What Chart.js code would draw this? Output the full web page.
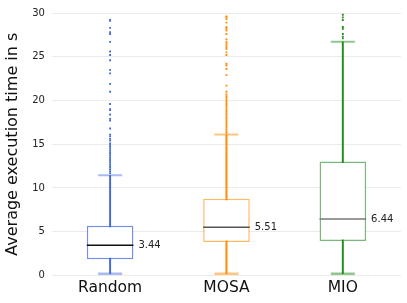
<!doctype html>
<html lang="en">
    <head>
        <meta charset="UTF-8" />
        <title>Execution time</title>
        <script src="https://cdn.jsdelivr.net/npm/chart.js"></script>
        <style>
            html, body { margin: 0; padding: 0; background: #fff; }
            #wrap { width: 407px; height: 303px; }
        </style>
    </head>
    <body>
        <div id="wrap"><canvas id="chart1"></canvas></div>
        <script>
            // Categories and box statistics
            const categories = ["Random", "MOSA", "MIO"];
            const q1 = [1.86, 3.83, 3.94];
            const q3 = [5.68, 8.75, 13.03];
            const medians = [3.44, 5.51, 6.44];
            const whiskerLow = [0.2, 0.2, 0.2];
            const whiskerHigh = [11.44, 16.1, 26.7];
            const yTicks = [0, 5, 10, 15, 20, 25, 30];

            // Outliers
            const randomOutliers = [11.7, 11.9, 12.1, 12.3, 12.5, 12.7, 12.9, 13.1, 13.3, 13.5, 13.7,
                13.9, 14.1, 14.3, 14.5, 14.7, 14.9, 15.1, 15.4, 15.6, 15.9, 16.1, 16.8, 17.7, 17.9, 18.4,
                18.9, 19.0, 19.6, 21.0, 21.9, 23.1, 23.5, 24.6, 25.2, 25.6, 26.7, 27.6, 27.8, 28.3, 29.1, 29.2];
            const mosaOutliers = [16.3, 16.5, 16.7, 16.9, 17.1, 17.3, 17.5, 17.7, 17.9, 18.1, 18.3, 18.5, 18.7,
                18.9, 19.1, 19.3, 19.5, 19.7, 19.9, 20.1, 20.3, 20.5, 20.7, 21.0, 21.7, 22.9, 23.6, 24.0,
                24.2, 25.2, 25.5, 25.9, 26.1, 26.3, 26.5, 26.7, 27.0, 27.6, 28.0, 28.2, 28.4, 28.9, 29.3,
                29.5, 29.6];
            const mioOutliers = [27.1, 27.3, 27.6, 28.2, 28.4, 29.2, 29.5, 29.8];
            const outliers = [randomOutliers, mosaOutliers, mioOutliers];

            const colors = ["rgb(65,105,225)", "rgb(255,140,0)", "rgb(34,139,34)"];
            const boxColors = ["rgba(65,105,225,0.75)", "rgba(255,140,0,0.6)", "rgba(34,139,34,0.6)"];
            const capColors = ["rgba(65,105,225,0.45)", "rgba(255,140,0,0.5)", "rgba(34,139,34,0.5)"];
            const medianColors = ["#111", "#555", "#777"];

            const FONT = "'DejaVu Sans', sans-serif";

            const pts = (vals) => vals.map((v, i) => ({ x: categories[i], y: v }));

            const outlierSets = outliers.map((list, i) => ({
                type: "line",
                data: list.map((v) => ({ x: categories[i], y: v })),
                showLine: false,
                pointStyle: "rect",
                pointRadius: 1.3,
                pointBackgroundColor: colors[i],
                pointBorderWidth: 0,
                order: 0,
            }));

            const medianLabels = {
                id: "medianLabels",
                afterDatasetsDraw(chart) {
                    const ctx = chart.ctx;
                    const y = chart.scales.y;
                    const boxes = chart.getDatasetMeta(0).data;
                    ctx.save();
                    ctx.font = "10px " + FONT;
                    ctx.fillStyle = "#222";
                    ctx.textBaseline = "middle";
                    boxes.forEach((bar, i) => {
                        ctx.fillText(medians[i].toFixed(2), bar.x + bar.width / 2 + 5, y.getPixelForValue(medians[i]));
                    });
                    ctx.restore();
                },
            };

            new Chart(document.getElementById("chart1").getContext("2d"), {
                type: "bar",
                data: {
                    labels: categories,
                    datasets: [
                        {
                            // boxes
                            data: q1.map((v, i) => [v, q3[i]]),
                            backgroundColor: "#fff",
                            borderColor: boxColors,
                            borderWidth: 1.5,
                            borderSkipped: false,
                            barPercentage: 0.4,
                            categoryPercentage: 1,
                            grouped: false,
                            order: 2,
                        },
                        {
                            // whiskers
                            data: whiskerLow.map((v, i) => [v, whiskerHigh[i]]),
                            backgroundColor: colors,
                            barThickness: 1.3,
                            grouped: false,
                            order: 3,
                        },
                        {
                            type: "line",
                            data: pts(whiskerHigh),
                            showLine: false,
                            pointStyle: "line",
                            pointRadius: 12,
                            pointBorderWidth: 2,
                            pointBorderColor: capColors,
                            order: 1,
                        },
                        {
                            type: "line",
                            data: pts(whiskerLow),
                            showLine: false,
                            pointStyle: "line",
                            pointRadius: 12,
                            pointBorderWidth: 2.5,
                            pointBorderColor: capColors,
                            order: 1,
                        },
                        {
                            type: "line",
                            data: pts(medians),
                            showLine: false,
                            pointStyle: "line",
                            pointRadius: 23.3,
                            pointBorderWidth: 1.5,
                            pointBorderColor: medianColors,
                            order: 1,
                        },
                        ...outlierSets,
                    ],
                },
                options: {
                    responsive: true,
                    maintainAspectRatio: false,
                    animation: false,
                    events: [],
                    layout: { autoPadding: false, padding: { top: 3, right: 6, bottom: 3, left: 3 } },
                    plugins: { legend: { display: false }, tooltip: { enabled: false } },
                    scales: {
                        x: {
                            grid: { display: false, drawTicks: false },
                            border: { display: false },
                            ticks: { color: "#111", font: { family: FONT, size: 15.5 }, padding: 3 },
                        },
                        y: {
                            min: 0,
                            max: 30,
                            afterBuildTicks: (axis) => {
                                axis.ticks = yTicks.map((v) => ({ value: v }));
                            },
                            grid: { color: "#ebebeb", drawTicks: false },
                            border: { display: false },
                            ticks: { color: "#222", font: { family: FONT, size: 10 }, padding: 7 },
                            title: {
                                display: true,
                                text: "Average execution time in s",
                                color: "#111",
                                font: { family: FONT, size: 16 },
                                padding: { top: 0, bottom: 3 },
                            },
                        },
                    },
                },
                plugins: [medianLabels],
            });
        </script>
    </body>
</html>
